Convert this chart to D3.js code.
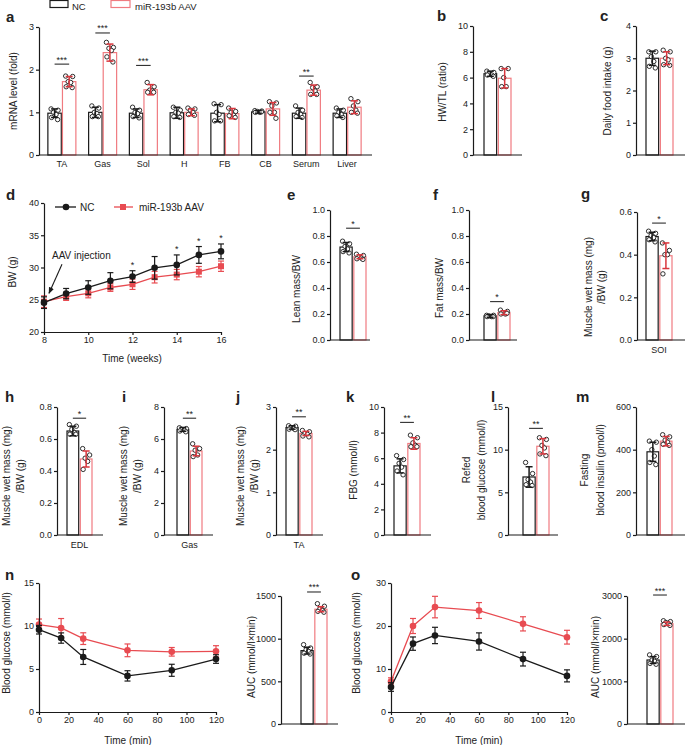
<!DOCTYPE html>
<html><head><meta charset="utf-8">
<script src="https://cdn.jsdelivr.net/npm/d3@7"></script>
<style>body{margin:0;background:#fff}svg text{font-family:"Liberation Sans",Arial,Helvetica,sans-serif;fill:#222}</style>
</head><body><svg id="c" width="685" height="745"></svg>
<script>
// ---------------- DATA ----------------
const groups = ["NC", "miR-193b AAV"];
// panel a
const aCats = ["TA","Gas","Sol","H","FB","CB","Serum","Liver"];
const aNCmean = [0.98,1.0,0.98,0.99,0.98,1.01,0.98,0.98];
const aNCsd   = [0.1,0.12,0.1,0.13,0.2,0.03,0.12,0.1];
const aAAVmean= [1.72,2.40,1.53,1.0,0.97,1.08,1.52,1.12];
const aAAVsd  = [0.12,0.2,0.12,0.08,0.12,0.15,0.12,0.15];
const aNCpts = [[1.08,1.05,1.0,0.95,0.88,0.83],[1.15,1.1,1.0,0.97,0.9,0.9],[1.12,1.05,1.0,0.97,0.9,0.87],[1.12,1.05,1.0,0.98,0.9,0.88],[1.2,1.18,1.0,0.95,0.8,0.8],[1.04,1.03,1.02,1.0,1.0,1.01],[1.15,1.05,1.0,0.95,0.9,0.88],[1.1,1.05,1.0,0.95,0.92,0.88]];
const aAAVpts= [[1.85,1.84,1.72,1.7,1.6,1.58],[2.64,2.52,2.5,2.45,2.3,2.18],[1.7,1.6,1.52,1.5,1.47,1.47],[1.1,1.08,1.05,1.0,0.95,0.93],[1.1,1.02,1.0,0.93,0.92,0.88],[1.25,1.22,1.15,1.0,1.0,0.86],[1.7,1.6,1.58,1.5,1.42,1.42],[1.32,1.25,1.15,1.05,1.0,0.98]];
const aSig  = ["***","***","***","","","","**",""];
const aSigY = [2.13,2.86,2.1,null,null,null,1.85,null];
const aTicks = [0,1,2,3];
// panel b
const bMean=[6.3,5.95], bSD=[0.2,0.75], bPts=[[6.5,6.4,6.3,6.2,6.2,6.1],[6.7,6.7,6.0,5.3,5.3]], bTicks=[0,2,4,6,8,10];
// panel c
const cMean=[3.0,3.0], cSD=[0.22,0.2], cPts=[[3.2,3.2,3.05,2.9,2.75,2.7],[3.25,3.2,3.0,2.95,2.8,2.78]], cTicks=[0,1,2,3,4];
// panel d
const dWeeks=[8,9,10,11,12,13,14,15,16];
const dNC   =[24.55,25.95,26.9,27.95,28.6,29.95,30.4,31.95,32.5];
const dNCsd =[0.9,0.8,1.05,1.25,0.9,1.75,1.55,1.3,1.15];
const dAAV  =[24.7,25.5,26.0,26.9,27.4,28.5,28.9,29.35,30.2];
const dAAVsd=[0.9,0.6,0.7,0.6,0.8,0.9,0.8,0.8,0.8];
const dSigWeeks=[12,14,15,16];
const dXTicks=[8,10,12,14,16], dYTicks=[20,25,30,35,40];
// panel e,f,g
const eMean=[0.715,0.64], eSD=[0.035,0.015], ePts=[[0.76,0.74,0.72,0.7,0.68,0.67],[0.66,0.65,0.64,0.63,0.625,0.62]];
const fMean=[0.185,0.21], fSD=[0.01,0.015], fPts=[[0.19,0.19,0.185,0.18,0.18,0.18],[0.23,0.22,0.21,0.2,0.2,0.205]];
const efTicks=[0,0.2,0.4,0.6,0.8,1.0];
const gMean=[0.485,0.395], gSD=[0.02,0.06], gPts=[[0.51,0.5,0.49,0.48,0.47,0.46],[0.455,0.42,0.4,0.4,0.31]], gTicks=[0,0.2,0.4,0.6];
// panel h,i,j
const hMean=[0.65,0.475], hSD=[0.03,0.05], hPts=[[0.69,0.68,0.66,0.64,0.63,0.63],[0.54,0.5,0.48,0.46,0.41]], hTicks=[0,0.2,0.4,0.6,0.8];
const iMean=[6.6,5.25], iSD=[0.12,0.3], iPts=[[6.7,6.65,6.6,6.55,6.5,6.45],[5.7,5.4,5.3,5.0,4.9]], iTicks=[0,2,4,6,8];
const jMean=[2.52,2.38], jSD=[0.04,0.05], jPts=[[2.56,2.55,2.52,2.5,2.48,2.47],[2.45,2.42,2.38,2.36,2.32,2.3]], jTicks=[0,1,2,3];
// panel k,l,m
const kMean=[5.4,7.15], kSD=[0.55,0.45], kPts=[[6.2,5.9,5.6,5.3,5.0,4.7],[7.8,7.6,7.2,7.0,6.9,6.9]], kTicks=[0,2,4,6,8,10];
const lMean=[6.8,10.4], lSD=[1.2,0.9], lPts=[[8.5,7.2,6.5,6.2,5.9,5.8],[11.4,11.2,10.5,10.2,9.5,9.3]], lTicks=[0,5,10,15];
const mMean=[390,440], mSD=[45,22], mPts=[[440,435,400,370,340,330],[470,460,445,435,425,420]], mTicks=[0,200,400,600];
// panel n,o
const tMin=[0,15,30,60,90,120], tTicks=[0,20,40,60,80,100,120];
const nNC=[9.57,8.6,6.4,4.2,4.85,6.16], nNCsd=[0.5,0.6,0.87,0.6,0.7,0.5];
const nAAV=[10.16,9.77,8.53,7.17,7.0,7.05], nAAVsd=[0.65,1.1,0.68,0.74,0.5,0.66];
const nYTicks=[0,5,10,15];
const nAUCmean=[860,1345], nAUCsd=[40,30], nAUCpts=[[930,890,870,850,830,820],[1410,1380,1350,1330,1320,1310]], nAUCticks=[0,500,1000,1500];
const oNC=[5.81,15.9,17.8,16.4,12.3,8.4], oNCsd=[1.0,1.55,1.9,2.0,1.6,1.4];
const oAAV=[7.1,20.0,24.4,23.6,20.5,17.4], oAAVsd=[0.85,1.75,2.5,1.85,1.65,1.6];
const oYTicks=[0,10,20,30];
const oAUCmean=[1500,2350], oAUCsd=[80,40], oAUCpts=[[1620,1580,1500,1470,1420,1400],[2420,2400,2380,2350,2330,2310]], oAUCticks=[0,1000,2000,3000];

// ---------------- DRAWING ----------------
const svg = d3.select("#c");
const FF = '"Liberation Sans",Arial,Helvetica,sans-serif';
const BLK="#1a1a1a", RED="#e84b51", RED_LIGHT="#f07b80", RED_DARK="#d9363d";
const jit=[-3.5,3.5,-1,1.5,-3,3];

function yAxis(y, x, ticks, fmt){
  const g = svg.append("g").attr("transform",`translate(${x},0)`).attr("font-family",FF)
    .call(d3.axisLeft(y).tickValues(ticks).tickFormat(fmt).tickSize(3).tickSizeOuter(0).tickPadding(2));
  g.select(".domain").attr("stroke",BLK).attr("stroke-width",1.2);
  g.selectAll(".tick line").attr("stroke",BLK).attr("stroke-width",1.2);
  g.selectAll(".tick text").attr("font-size",9).attr("fill","#222");
  return g;
}
function xAxis(x, y, ticks){
  const g = svg.append("g").attr("transform",`translate(0,${y})`).attr("font-family",FF)
    .call(d3.axisBottom(x).tickValues(ticks).tickSize(3).tickSizeOuter(0).tickPadding(2));
  g.select(".domain").attr("stroke",BLK).attr("stroke-width",1.2);
  g.selectAll(".tick line").attr("stroke",BLK).attr("stroke-width",1.2);
  g.selectAll(".tick text").attr("font-size",9).attr("fill","#222");
  return g;
}
function baseline(x0,x1,y){
  svg.append("line").attr("x1",x0).attr("x2",x1).attr("y1",y).attr("y2",y).attr("stroke",BLK).attr("stroke-width",1.2);
}
function yTitle(lines, xs, yc){
  lines.forEach((t,i)=>{
    svg.append("text").attr("transform",`translate(${xs[i]},${yc}) rotate(-90)`).attr("text-anchor","middle")
      .attr("font-size",10).text(t);
  });
}
function letter(t,x,y){ svg.append("text").attr("x",x).attr("y",y).attr("font-size",15).attr("font-weight","bold").attr("fill","#000").text(t); }
function sig(x1,x2,y,t){
  svg.append("line").attr("x1",x1).attr("x2",x2).attr("y1",y).attr("y2",y).attr("stroke",BLK).attr("stroke-width",1);
  svg.append("text").attr("x",(x1+x2)/2).attr("y",y-1.5).attr("text-anchor","middle").attr("font-size",9).text(t);
}
function bar(cx,w,mean,sd,pts,y,red){
  const col = red?RED_LIGHT:BLK;
  svg.append("rect").attr("x",cx-w/2).attr("y",y(mean)).attr("width",w).attr("height",y(0)-y(mean))
    .attr("fill","#fff").attr("stroke",col).attr("stroke-width",1.2);
  svg.append("g").selectAll("circle").data(pts).join("circle")
    .attr("cx",(d,i)=>cx+jit[i%jit.length]).attr("cy",d=>y(d)).attr("r",2.2)
    .attr("fill","#fff").attr("stroke",BLK).attr("stroke-width",0.9);
  const ec = red?RED_DARK:BLK;
  const g=svg.append("g").attr("stroke",ec).attr("stroke-width",1.5);
  g.append("line").attr("x1",cx).attr("x2",cx).attr("y1",y(mean-sd)).attr("y2",y(mean+sd));
  [mean-sd,mean+sd].forEach(v=>g.append("line").attr("x1",cx-3.5).attr("x2",cx+3.5).attr("y1",y(v)).attr("y2",y(v)));
}
function barPanel(p){
  const y=d3.scaleLinear().domain([0,p.ticks[p.ticks.length-1]]).range([p.bot,p.top]);
  const x=d3.scaleBand().domain(groups).range(p.band).paddingInner(0.12);
  const w=x.bandwidth();
  groups.forEach((gname,i)=>bar(x(gname)+w/2,w,p.means[i],p.sds[i],p.pts[i],y,i===1));
  yAxis(y,p.axisX,p.ticks,p.fmt||d3.format("d"));
  baseline(p.axisX,p.end,y(0));
  if(p.sig){ sig(x(groups[0])+w/2,x(groups[1])+w/2,y(p.sigY),p.sig); }
  if(p.xlabel){ svg.append("text").attr("x",(p.band[0]+p.band[1])/2).attr("y",y(0)+13).attr("text-anchor","middle").attr("font-size",9).text(p.xlabel); }
  yTitle(p.title,p.titleX,p.titleY);
  if(p.letter) letter(p.letter,p.lx,p.ly);
}

// top legend
svg.append("rect").attr("x",50).attr("y",0.5).attr("width",18).attr("height",7).attr("fill","#fff").attr("stroke",BLK).attr("stroke-width",1.2);
svg.append("text").attr("x",72).attr("y",9.5).attr("font-size",9.5).text(groups[0]);
svg.append("rect").attr("x",111).attr("y",0.5).attr("width",19).attr("height",7).attr("fill","#fff").attr("stroke",RED_LIGHT).attr("stroke-width",1.2);
svg.append("text").attr("x",135).attr("y",9.5).attr("font-size",9.5).text(groups[1]);

// panel a
{
  const y=d3.scaleLinear().domain([0,3]).range([155,27]);
  const x=d3.scaleBand().domain(aCats).range([41.5,367.5]);
  const sub=d3.scaleBand().domain(groups).range([-14,14]).paddingInner(0.08);
  const w=sub.bandwidth();
  aCats.forEach((c,i)=>{
    const cx=x(c)+x.bandwidth()/2;
    bar(cx+sub(groups[0])+w/2,w,aNCmean[i],aNCsd[i],aNCpts[i],y,false);
    bar(cx+sub(groups[1])+w/2,w,aAAVmean[i],aAAVsd[i],aAAVpts[i],y,true);
    svg.append("text").attr("x",cx).attr("y",167).attr("text-anchor","middle").attr("font-size",9).text(c);
    if(aSig[i]) sig(cx+sub(groups[0])+w/2,cx+sub(groups[1])+w/2,y(aSigY[i]),aSig[i]);
  });
  yAxis(y,39,aTicks,d3.format("d"));
  baseline(39,372,y(0));
  yTitle(["mRNA level (fold)"],[16.5],91);
  letter("a",6,22);
}
barPanel({axisX:473,end:522,top:26,bot:155,ticks:bTicks,band:[484,511],means:bMean,sds:bSD,pts:bPts,title:["HW/TL (ratio)"],titleX:[446],titleY:92,letter:"b",lx:437,ly:21});
barPanel({axisX:636,end:685,top:26,bot:155,ticks:cTicks,band:[646,673],means:cMean,sds:cSD,pts:cPts,title:["Daily food intake (g)"],titleX:[611],titleY:91,letter:"c",lx:600,ly:21});

// line chart helper
function series(x,y,xs,means,sds,color,marker){
  const line=d3.line().x((d,i)=>x(xs[i])).y(d=>y(d));
  svg.append("path").datum(means).attr("d",line).attr("fill","none").attr("stroke",color).attr("stroke-width",1.3);
  const g=svg.append("g").attr("stroke",color).attr("stroke-width",1.2);
  means.forEach((m,i)=>{
    const cx=x(xs[i]);
    g.append("line").attr("x1",cx).attr("x2",cx).attr("y1",y(m-sds[i])).attr("y2",y(m+sds[i]));
    [m-sds[i],m+sds[i]].forEach(v=>g.append("line").attr("x1",cx-3).attr("x2",cx+3).attr("y1",y(v)).attr("y2",y(v)));
  });
  if(marker==="square"){
    svg.append("g").selectAll("rect").data(means).join("rect")
      .attr("x",(d,i)=>x(xs[i])-3).attr("y",d=>y(d)-3).attr("width",6).attr("height",6).attr("fill",color);
  } else {
    svg.append("g").selectAll("circle").data(means).join("circle")
      .attr("cx",(d,i)=>x(xs[i])).attr("cy",d=>y(d)).attr("r",3.3).attr("fill",color);
  }
}

// panel d
{
  const x=d3.scaleLinear().domain([8,16]).range([44,221]);
  const y=d3.scaleLinear().domain([20,40]).range([332,203]);
  series(x,y,dWeeks,dAAV,dAAVsd,RED,"square");
  series(x,y,dWeeks,dNC,dNCsd,BLK,"circle");
  dSigWeeks.forEach(w=>{
    const i=dWeeks.indexOf(w);
    svg.append("text").attr("x",x(w)).attr("y",y(dNC[i]+dNCsd[i])-3).attr("text-anchor","middle").attr("font-size",9).text("*");
  });
  yAxis(y,44,dYTicks,d3.format("d"));
  xAxis(x,332,dXTicks);
  svg.append("text").attr("x",132).attr("y",362).attr("text-anchor","middle").attr("font-size",10).text("Time (weeks)");
  yTitle(["BW (g)"],[16],272);
  letter("d",6,200);
  // legend
  const ly=207;
  svg.append("line").attr("x1",55).attr("x2",76).attr("y1",ly).attr("y2",ly).attr("stroke",BLK).attr("stroke-width",1.3);
  svg.append("circle").attr("cx",66).attr("cy",ly).attr("r",3.3).attr("fill",BLK);
  svg.append("text").attr("x",80).attr("y",ly+3.5).attr("font-size",10).text(groups[0]);
  svg.append("line").attr("x1",114).attr("x2",133).attr("y1",ly).attr("y2",ly).attr("stroke",RED).attr("stroke-width",1.3);
  svg.append("rect").attr("x",120).attr("y",ly-3).attr("width",6).attr("height",6).attr("fill",RED);
  svg.append("text").attr("x",139).attr("y",ly+3.5).attr("font-size",10).text(groups[1]);
  // annotation
  svg.append("defs").append("marker").attr("id","ah").attr("viewBox","0 0 10 10").attr("refX",9).attr("refY",5)
    .attr("markerWidth",6).attr("markerHeight",6).attr("orient","auto")
    .append("path").attr("d","M0,1L10,5L0,9Z").attr("fill",BLK);
  svg.append("text").attr("x",52).attr("y",259).attr("font-size",10).text("AAV injection");
  svg.append("line").attr("x1",x(8)+18).attr("y1",y(30.5)).attr("x2",x(8)+5).attr("y2",y(26))
    .attr("stroke",BLK).attr("stroke-width",1.1).attr("marker-end","url(#ah)");
}

barPanel({axisX:330,end:370,top:210,bot:340,ticks:efTicks,fmt:d3.format(".1f"),band:[340,366],means:eMean,sds:eSD,pts:ePts,sig:"*",sigY:0.86,title:["Lean mass/BW"],titleX:[300],titleY:289,letter:"e",lx:287,ly:200});
barPanel({axisX:469,end:517,top:210,bot:340,ticks:efTicks,fmt:d3.format(".1f"),band:[484,510],means:fMean,sds:fSD,pts:fPts,sig:"*",sigY:0.295,title:["Fat mass/BW"],titleX:[443],titleY:288,letter:"f",lx:433,ly:200});
barPanel({axisX:637,end:685,top:212,bot:340,ticks:gTicks,fmt:d3.format(".1f"),band:[646,672],means:gMean,sds:gSD,pts:gPts,sig:"*",sigY:0.548,xlabel:"SOI",title:["Muscle wet mass (mg)","/BW (g)"],titleX:[592,605],titleY:287,letter:"g",lx:581,ly:199});

barPanel({axisX:57,end:103,top:407,bot:535,ticks:hTicks,fmt:d3.format(".1f"),band:[67,92],means:hMean,sds:hSD,pts:hPts,sig:"*",sigY:0.73,xlabel:"EDL",title:["Muscle wet mass (mg)","/BW (g)"],titleX:[10,24],titleY:476,letter:"h",lx:5,ly:402});
barPanel({axisX:164,end:213,top:407,bot:535,ticks:iTicks,band:[177,202],means:iMean,sds:iSD,pts:iPts,sig:"**",sigY:7.3,xlabel:"Gas",title:["Muscle wet mass (mg)","/BW (g)"],titleX:[127,141],titleY:476,letter:"i",lx:122,ly:402});
barPanel({axisX:276,end:323,top:407,bot:535,ticks:jTicks,band:[286,312],means:jMean,sds:jSD,pts:jPts,sig:"**",sigY:2.77,xlabel:"TA",title:["Muscle wet mass (mg)","/BW (g)"],titleX:[244,258],titleY:476,letter:"j",lx:236,ly:402});
barPanel({axisX:384,end:431,top:407,bot:535,ticks:kTicks,band:[394,420],means:kMean,sds:kSD,pts:kPts,sig:"**",sigY:8.8,title:["FBG (mmol/l)"],titleX:[357],titleY:470,letter:"k",lx:346,ly:402});
barPanel({axisX:508,end:558,top:407,bot:535,ticks:lTicks,band:[523,549],means:lMean,sds:lSD,pts:lPts,sig:"**",sigY:12.5,title:["Refed","blood glucose (mmol/l)"],titleX:[470,485],titleY:470,letter:"l",lx:491,ly:402});
barPanel({axisX:636,end:685,top:407,bot:535,ticks:mTicks,band:[647,672],means:mMean,sds:mSD,pts:mPts,title:["Fasting","blood insulin (pmol/l)"],titleX:[588,604],titleY:470,letter:"m",lx:576,ly:402});

// panel n
{
  const x=d3.scaleLinear().domain([0,120]).range([39,216]);
  const y=d3.scaleLinear().domain([0,15]).range([712,583]);
  series(x,y,tMin,nAAV,nAAVsd,RED,"circle");
  series(x,y,tMin,nNC,nNCsd,BLK,"circle");
  yAxis(y,39,nYTicks,d3.format("d"));
  xAxis(x,712,tTicks);
  svg.append("text").attr("x",128).attr("y",744).attr("text-anchor","middle").attr("font-size",10).text("Time (min)");
  yTitle(["Blood glucose (mmol/l)"],[10],643);
  letter("n",5,580);
}
barPanel({axisX:281,end:338,top:596,bot:724,ticks:nAUCticks,band:[301,327],means:nAUCmean,sds:nAUCsd,pts:nAUCpts,sig:"***",sigY:1547,title:["AUC (mmol/l×min)"],titleX:[255],titleY:657});
// panel o
{
  const x=d3.scaleLinear().domain([0,120]).range([391,567]);
  const y=d3.scaleLinear().domain([0,30]).range([712,583]);
  series(x,y,tMin,oAAV,oAAVsd,RED,"circle");
  series(x,y,tMin,oNC,oNCsd,BLK,"circle");
  yAxis(y,391,oYTicks,d3.format("d"));
  xAxis(x,712,tTicks);
  svg.append("text").attr("x",479).attr("y",744).attr("text-anchor","middle").attr("font-size",10).text("Time (min)");
  yTitle(["Blood glucose (mmol/l)"],[360],643);
  letter("o",351,580);
}
barPanel({axisX:627,end:685,top:596,bot:724,ticks:oAUCticks,band:[647,673],means:oAUCmean,sds:oAUCsd,pts:oAUCpts,sig:"***",sigY:3023,title:["AUC (mmol/l×min)"],titleX:[599],titleY:657});
</script></body></html>
